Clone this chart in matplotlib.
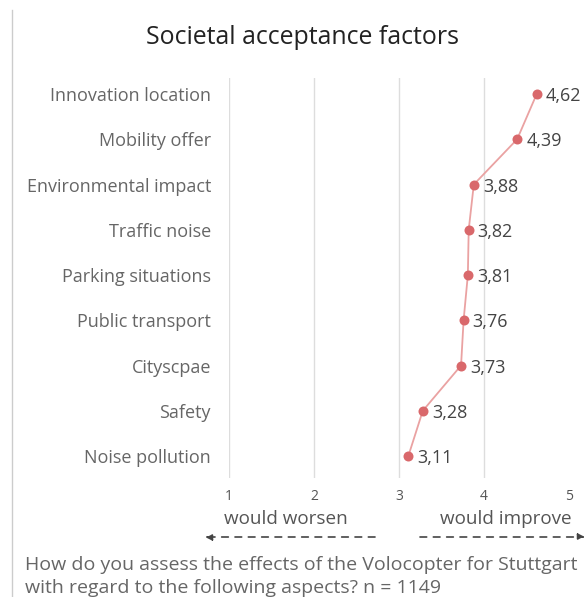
import matplotlib
matplotlib.use("Agg")
import matplotlib.pyplot as plt
from matplotlib.transforms import blended_transform_factory

categories = ["Innovation location", "Mobility offer", "Environmental impact",
              "Traffic noise", "Parking situations", "Public transport",
              "Cityscpae", "Safety", "Noise pollution"]
values = [4.62, 4.39, 3.88, 3.82, 3.81, 3.76, 3.73, 3.28, 3.11]
value_labels = ["4,62", "4,39", "3,88", "3,82", "3,81", "3,76", "3,73", "3,28", "3,11"]
x_ticks = [1, 2, 3, 4, 5]
grid_ticks = [1, 2, 3, 4]

plt.rcParams['font.family'] = ['Open Sans', 'DejaVu Sans']

W, H = 588, 597
fig = plt.figure(figsize=(W / 100, H / 100), dpi=100)

def fx(px):
    return px / W

def fy(py):
    return 1 - py / H

ax_left, ax_right, ax_top, ax_bot = 229, 569, 78, 478
ax = fig.add_axes([fx(ax_left), fy(ax_bot), fx(ax_right - ax_left), (ax_bot - ax_top) / H])
ax.set_xlim(1, 5)
ax.set_ylim(8.486, -0.354)
for s in ax.spines.values():
    s.set_visible(False)
ax.set_xticks([])
ax.set_yticks(range(len(categories)))
ax.set_yticklabels(categories, fontsize=13, color="#666666", va='center_baseline')
ax.tick_params(axis='y', length=0, pad=13)
for g in grid_ticks:
    ax.axvline(g, color="#dddddd", lw=1.0, zorder=0)

ys = list(range(len(categories)))
ax.plot(values, ys, color="#eaa2a2", lw=1.3, zorder=2)
ax.plot(values, ys, 'o', color="#d9686b", ms=7.2, zorder=3, markeredgewidth=0)
for v, y, lab in zip(values, ys, value_labels):
    ax.annotate(lab, (v, y), xytext=(6.5, 0), textcoords='offset points',
                va='center_baseline', ha='left', fontsize=13, color="#444444")

# x tick numbers below
tr = blended_transform_factory(ax.transData, fig.transFigure)
for t in x_ticks:
    ax.text(t, fy(497), str(t), transform=tr, ha='center', va='center',
            fontsize=10, color="#555555")

fig.text(fx(286), fy(519), "would worsen", ha='center', va='center', fontsize=13.6, color="#555555")
fig.text(fx(506), fy(519), "would improve", ha='center', va='center', fontsize=13.6, color="#555555")

ax_arrow = fig.add_axes([0, 0, 1, 1], facecolor='none')
ax_arrow.set_xlim(0, W)
ax_arrow.set_ylim(H, 0)
ax_arrow.axis('off')
ax_arrow.annotate("", xy=(205, 537), xytext=(375, 537),
                  arrowprops=dict(arrowstyle='-|>', linestyle=(0, (4, 4)), color="#444444",
                                  lw=1.2, mutation_scale=10, shrinkA=0, shrinkB=0))
ax_arrow.annotate("", xy=(585, 537), xytext=(420, 537),
                  arrowprops=dict(arrowstyle='-|>', linestyle=(0, (4, 4)), color="#444444",
                                  lw=1.2, mutation_scale=10, shrinkA=0, shrinkB=0))
ax_arrow.plot([12, 12], [10, 597], color="#cccccc", lw=1)

fig.text(fx(302), fy(38), "Societal acceptance factors", ha='center', va='center',
         fontsize=17.9, color="#222222")

fig.text(fx(25), fy(565), "How do you assess the effects of the Volocopter for Stuttgart",
         ha='left', va='center', fontsize=14, color="#666666")
fig.text(fx(25), fy(588), "with regard to the following aspects? n = 1149",
         ha='left', va='center', fontsize=14, color="#666666")

fig.savefig("out.png", dpi=100)
